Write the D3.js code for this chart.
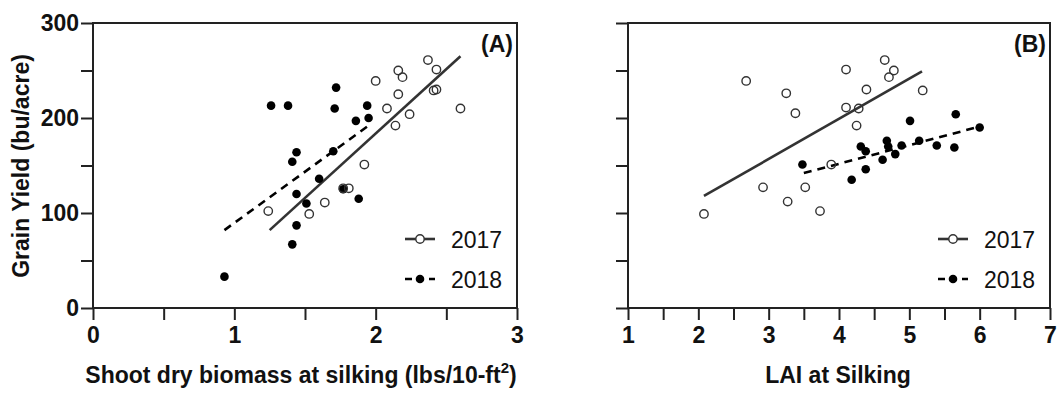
<!DOCTYPE html>
<html>
<head>
<meta charset="utf-8">
<script src="https://cdn.jsdelivr.net/npm/d3@7"></script>
<style>
  body { margin: 0; background: #fff; }
  svg { display: block; font-family: "Liberation Sans", Arial, sans-serif; }
</style>
</head>
<body>
<svg id="chart" width="1058" height="395"></svg>
<script>
// panel A: shoot dry biomass vs yield
var bio17 = [1.24, 1.53, 1.64, 1.77, 1.81, 1.92, 2.00, 2.08, 2.14, 2.16, 2.19, 2.16, 2.24, 2.37, 2.43, 2.41, 2.43, 2.60];
var bioYield17 = [102, 99, 111, 126, 126, 151, 239, 210, 192, 250, 243, 225, 204, 261, 251, 229, 230, 210];
var bio18 = [1.26, 1.38, 1.72, 1.71, 1.94, 1.86, 1.95, 1.44, 1.41, 1.70, 1.60, 1.44, 1.51, 1.88, 1.44, 1.41, 0.93, 1.77];
var bioYield18 = [213, 213, 232, 210, 213, 197, 200, 164, 154, 165, 136, 120, 110, 115, 87, 67, 33, 125];
// fitted lines, end points
var bioFit17 = [[1.25, 82], [2.60, 265]];
var bioFit18 = [[0.93, 82], [1.95, 192]];

// panel B: LAI vs yield
var lai17 = [2.08, 2.68, 2.92, 3.25, 3.27, 3.38, 3.52, 3.73, 3.89, 4.10, 4.10, 4.28, 4.25, 4.39, 4.65, 4.78, 4.71, 5.19];
var laiYield17 = [99, 239, 127, 226, 112, 205, 127, 102, 151, 251, 211, 210, 192, 230, 261, 250, 243, 229];
var lai18 = [3.48, 4.18, 4.31, 4.38, 4.38, 4.62, 4.68, 4.70, 4.80, 4.89, 5.01, 5.14, 5.39, 5.64, 5.66, 6.00];
var laiYield18 = [151, 135, 170, 165, 146, 156, 176, 170, 162, 171, 197, 176, 171, 169, 204, 190];
var laiFit17 = [[2.08, 118], [5.18, 249]];
var laiFit18 = [[3.50, 142], [6.00, 191]];

var years = ["2017", "2018"];
var yTicks = d3.range(0, 301, 50);

var svg = d3.select("#chart");
var axisColor = "#222";

function zip(xs, ys) {
  return xs.map(function (x, i) { return [x, ys[i]]; });
}

function drawPanel(opt) {
  var x = d3.scaleLinear().domain(opt.xDomain).range(opt.xRange);
  var y = d3.scaleLinear().domain([0, 300]).range([308, 23]);
  var g = svg.append("g");

  // y axis
  var yAxis = d3.axisLeft(y).tickValues(yTicks).tickSize(12).tickPadding(2)
    .tickFormat(function (d) { return (opt.yLabels && d % 100 === 0) ? d : ""; });
  g.append("g").attr("transform", "translate(" + x.range()[0] + ",0)").call(yAxis);

  // x axis
  var xAxis = d3.axisBottom(x).tickValues(d3.range(opt.xDomain[0], opt.xDomain[1] + 0.01, 0.5))
    .tickSize(12).tickPadding(7)
    .tickFormat(function (d) { return d % 1 === 0 ? d : ""; });
  g.append("g").attr("transform", "translate(0," + y(0) + ")").call(xAxis);

  g.selectAll(".tick line").attr("stroke", axisColor).attr("stroke-width", 2);
  g.selectAll(".domain").remove();
  g.selectAll(".tick text").attr("fill", "#111").attr("font-size", 23)
    .attr("font-weight", "bold").attr("font-family", "'Liberation Sans', Arial, sans-serif");

  // frame
  g.append("rect")
    .attr("x", x.range()[0]).attr("y", y(300))
    .attr("width", x.range()[1] - x.range()[0]).attr("height", y(0) - y(300))
    .attr("fill", "none").attr("stroke", axisColor).attr("stroke-width", 2);

  var line = d3.line().x(function (d) { return x(d[0]); }).y(function (d) { return y(d[1]); });

  g.append("path").datum(opt.fit17).attr("d", line)
    .attr("stroke", "#333").attr("stroke-width", 2.6).attr("fill", "none");
  g.append("path").datum(opt.fit18).attr("d", line)
    .attr("stroke", "#000").attr("stroke-width", 2.6).attr("fill", "none")
    .attr("stroke-dasharray", "8,6");

  g.append("g").selectAll("circle").data(opt.pts18).enter().append("circle")
    .attr("cx", function (d) { return x(d[0]); })
    .attr("cy", function (d) { return y(d[1]); })
    .attr("r", 4.3).attr("fill", "#000");

  g.append("g").selectAll("circle").data(opt.pts17).enter().append("circle")
    .attr("cx", function (d) { return x(d[0]); })
    .attr("cy", function (d) { return y(d[1]); })
    .attr("r", 4.2).attr("fill", "none").attr("stroke", "#333").attr("stroke-width", 1.4);

  // panel letter
  g.append("text").attr("x", x.range()[1] - 4).attr("y", 52)
    .attr("text-anchor", "end").attr("font-weight", "bold").attr("font-size", 23)
    .attr("fill", "#111").text(opt.letter);

  // x title
  var xt = g.append("text").attr("x", opt.titleX).attr("y", 383)
    .attr("text-anchor", "middle").attr("font-weight", "bold").attr("font-size", 23)
    .attr("fill", "#111");
  xt.append("tspan").text(opt.xTitle);
  if (opt.sup) {
    xt.append("tspan").attr("dy", -10).attr("font-size", 15).text(opt.sup);
    xt.append("tspan").attr("dy", 10).text(")");
  }

  // legend
  var lx = x.range()[1] - 112;
  years.forEach(function (yr, i) {
    var ly = 239 + i * 40;
    var lg = g.append("g");
    lg.append("line").attr("x1", lx).attr("x2", lx + 30).attr("y1", ly).attr("y2", ly)
      .attr("stroke", i === 0 ? "#333" : "#000").attr("stroke-width", 2.6)
      .attr("stroke-dasharray", i === 0 ? null : "7,5");
    if (i === 0) {
      lg.append("circle").attr("cx", lx + 15).attr("cy", ly).attr("r", 4.2)
        .attr("fill", "#fff").attr("stroke", "#333").attr("stroke-width", 1.4);
    } else {
      lg.append("circle").attr("cx", lx + 15).attr("cy", ly).attr("r", 4.3).attr("fill", "#000");
    }
    lg.append("text").attr("x", lx + 46).attr("y", ly + 8.5)
      .attr("font-size", 23).attr("fill", "#111").text(yr);
  });
}

drawPanel({
  xDomain: [0, 3], xRange: [93, 517], yLabels: true,
  pts17: zip(bio17, bioYield17), pts18: zip(bio18, bioYield18),
  fit17: bioFit17, fit18: bioFit18, letter: "(A)",
  xTitle: "Shoot dry biomass at silking (lbs/10-ft", sup: "2", titleX: 301
});

drawPanel({
  xDomain: [1, 7], xRange: [628, 1050], yLabels: false,
  pts17: zip(lai17, laiYield17), pts18: zip(lai18, laiYield18),
  fit17: laiFit17, fit18: laiFit18, letter: "(B)",
  xTitle: "LAI at Silking", titleX: 838
});

// y title
svg.append("text")
  .attr("transform", "translate(29,166) rotate(-90)")
  .attr("text-anchor", "middle").attr("font-weight", "bold").attr("font-size", 23)
  .attr("fill", "#111").text("Grain Yield (bu/acre)");
</script>
</body>
</html>
